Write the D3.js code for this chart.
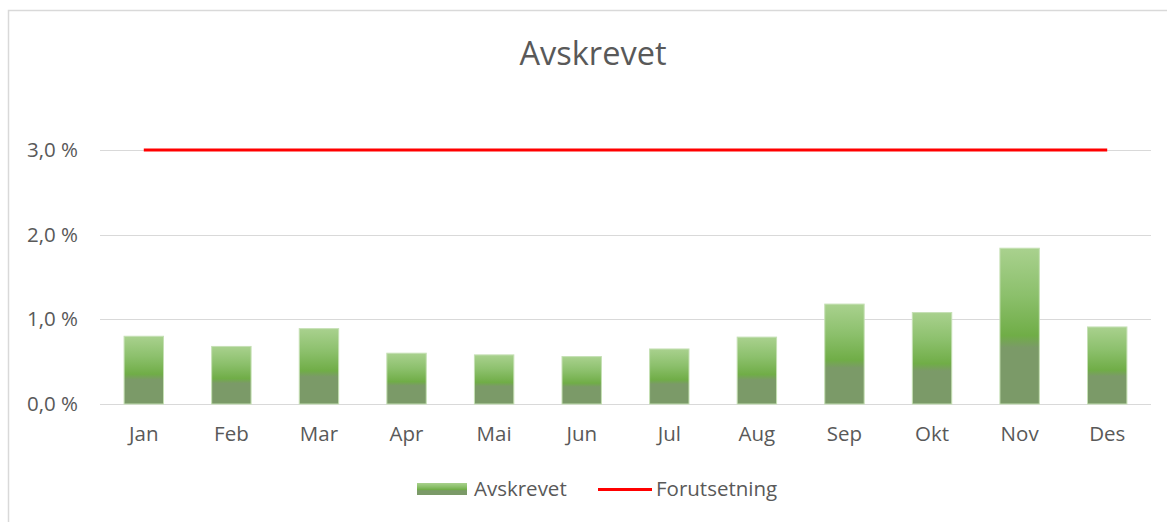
<!DOCTYPE html>
<html><head><meta charset="utf-8">
<script src="https://cdn.jsdelivr.net/npm/d3@7"></script>
<style>body{margin:0;background:#fff}svg{display:block}text{font-family:"Open Sans",Lato,sans-serif}</style>
</head><body>
<svg id="c" width="1167" height="522"></svg>
<script>
const months = ["Jan","Feb","Mar","Apr","Mai","Jun","Jul","Aug","Sep","Okt","Nov","Des"];
const avskrevet = [0.80,0.68,0.89,0.60,0.58,0.56,0.65,0.79,1.18,1.08,1.84,0.91];
const forutsetning = [3.0,3.0,3.0,3.0,3.0,3.0,3.0,3.0,3.0,3.0,3.0,3.0];
const yTicks = [0,1,2,3];

const svg = d3.select("#c");
svg.append("rect").attr("x",8.5).attr("y",10.5).attr("width",1180).attr("height",540)
  .attr("fill","#fff").attr("stroke","#d9d9d9").attr("stroke-width",1.5);

const x = d3.scaleBand().domain(months).range([100,1151]).paddingInner(0.55).paddingOuter(0.275);
const y = d3.scaleLinear().domain([0,3]).range([404,150]);

const defs = svg.append("defs");
const g = defs.append("linearGradient").attr("id","grad").attr("x1",0).attr("y1",0).attr("x2",0).attr("y2",1);
[[0,"#a9d18e"],[0.3,"#8cc06c"],[0.56,"#70ad47"],[0.64,"#7b9a68"],[1,"#7b9a68"]].forEach(([o,c])=>g.append("stop").attr("offset",o).attr("stop-color",c));

// gridlines
svg.append("g").selectAll("line").data(yTicks).join("line")
  .attr("x1",100).attr("x2",1151).attr("y1",d=>Math.round(y(d))+0.5).attr("y2",d=>Math.round(y(d))+0.5)
  .attr("stroke","#d9d9d9").attr("stroke-width",1);

const fmt = d => d3.format(".1f")(d).replace(".",",")+" %";
svg.append("g").selectAll("text").data(yTicks).join("text")
  .attr("x",78).attr("y",d=>y(d)+7).attr("text-anchor","end")
  .attr("font-size",20.5).attr("fill","#595959").text(fmt);

// bars
svg.append("g").selectAll("rect").data(avskrevet).join("rect")
  .attr("x",(d,i)=>x(months[i])).attr("width",x.bandwidth())
  .attr("y",d=>y(d)).attr("height",d=>y(0)-y(d))
  .attr("fill","url(#grad)").attr("stroke","#c5e0b4").attr("stroke-width",1);

// line
svg.append("path").datum(forutsetning)
  .attr("d",d3.line().x((d,i)=>x(months[i])+x.bandwidth()/2).y(d=>y(d)))
  .attr("fill","none").attr("stroke","#ff0000").attr("stroke-width",3);

// x labels
svg.append("g").selectAll("text").data(months).join("text")
  .attr("x",d=>x(d)+x.bandwidth()/2).attr("y",441).attr("text-anchor","middle")
  .attr("font-size",20.5).attr("fill","#595959").text(d=>d);

// title
svg.append("text").attr("x",593).attr("y",65).attr("text-anchor","middle")
  .attr("font-size",32.5).attr("fill","#595959").text("Avskrevet");

// legend
const lg = svg.append("g");
lg.append("rect").attr("x",417).attr("y",483).attr("width",50).attr("height",12).attr("fill","url(#grad)");
lg.append("text").attr("x",474).attr("y",496).attr("font-size",20.5).attr("fill","#595959").text("Avskrevet");
lg.append("line").attr("x1",598).attr("x2",652).attr("y1",489.5).attr("y2",489.5).attr("stroke","#ff0000").attr("stroke-width",3);
lg.append("text").attr("x",656).attr("y",496).attr("font-size",20.5).attr("fill","#595959").text("Forutsetning");
</script>
</body></html>
